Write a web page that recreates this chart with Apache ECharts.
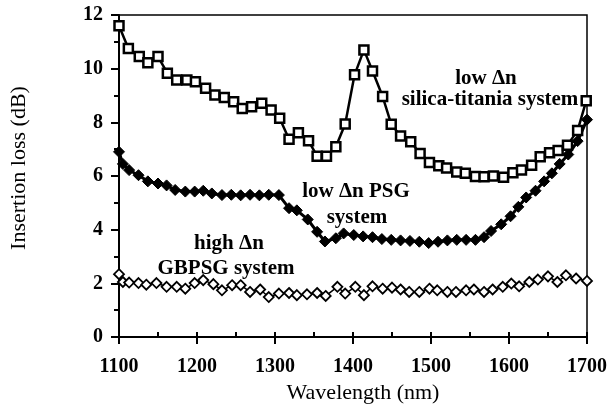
<!DOCTYPE html>
<html>
<head>
<meta charset="utf-8">
<script src="https://cdn.jsdelivr.net/npm/echarts@6/dist/echarts.min.js"></script>
<style>html,body{margin:0;padding:0;background:#fff;}#c{width:611px;height:409px;}</style>
</head>
<body>
<div id="c"></div>
<script>
// silica-titania system (open squares)
var stWl = [1100,1112,1126,1137,1150,1162,1174,1187,1198,1211,1223,1235,1247,1258,1270,1283,1295,1306,1318,1330,1343,1354,1366,1378,1390,1402,1414,1425,1438,1449,1461,1474,1486,1498,1510,1520,1533,1544,1557,1568,1580,1593,1605,1616,1629,1640,1652,1663,1675,1688,1699];
var stLoss = [11.6,10.75,10.45,10.22,10.45,9.83,9.58,9.58,9.51,9.27,9.02,8.93,8.77,8.52,8.58,8.71,8.46,8.15,7.37,7.61,7.31,6.74,6.74,7.09,7.94,9.77,10.7,9.91,8.96,7.93,7.49,7.28,6.84,6.5,6.38,6.3,6.15,6.1,5.98,5.97,6.0,5.95,6.12,6.22,6.4,6.72,6.87,6.95,7.15,7.7,8.8];
// low dn PSG system (filled diamonds)
var psgWl = [1100,1105,1113,1125,1137,1150,1161,1172,1185,1197,1208,1219,1232,1244,1256,1268,1280,1292,1305,1318,1328,1342,1354,1364,1378,1388,1401,1413,1425,1437,1449,1461,1473,1485,1497,1509,1521,1533,1545,1557,1568,1577,1590,1602,1612,1622,1634,1645,1655,1665,1676,1688,1700];
var psgLoss = [6.9,6.45,6.22,6.03,5.8,5.72,5.65,5.48,5.42,5.42,5.45,5.35,5.29,5.3,5.28,5.3,5.28,5.3,5.29,4.8,4.72,4.38,3.92,3.56,3.68,3.86,3.8,3.75,3.72,3.65,3.62,3.6,3.58,3.55,3.5,3.55,3.6,3.62,3.62,3.62,3.72,3.95,4.2,4.5,4.85,5.2,5.45,5.8,6.1,6.45,6.8,7.3,8.1];
// high dn GBPSG system (open diamonds)
var gbWl = [1100,1105,1113,1125,1135,1148,1161,1174,1185,1197,1208,1221,1232,1245,1256,1268,1281,1292,1305,1318,1328,1341,1354,1365,1380,1390,1403,1414,1425,1438,1450,1461,1472,1485,1498,1508,1521,1532,1545,1555,1568,1579,1592,1603,1613,1626,1637,1650,1662,1673,1686,1700];
var gbLoss = [2.34,2.05,2.03,2.01,1.95,2.01,1.87,1.87,1.8,2.01,2.12,1.97,1.74,1.93,1.93,1.68,1.77,1.49,1.62,1.64,1.56,1.59,1.64,1.53,1.87,1.62,1.87,1.56,1.89,1.8,1.84,1.77,1.68,1.68,1.8,1.74,1.68,1.68,1.74,1.77,1.68,1.77,1.87,1.99,1.89,2.05,2.14,2.26,2.05,2.3,2.18,2.09];

var xTicks = [1100,1200,1300,1400,1500,1600,1700];
var yTicks = [0,2,4,6,8,10,12];

function pairs(xs, ys){ return xs.map(function(x,i){ return [x, ys[i]]; }); }

var serif = 'Liberation Serif';
var chart = echarts.init(document.getElementById('c'), null, {renderer:'canvas'});
chart.setOption({
  animation:false,
  backgroundColor:'#fff',
  grid:{left:119, right:24, top:15, bottom:72, show:true, borderColor:'#000', borderWidth:1.5, backgroundColor:'transparent'},
  xAxis:[{
    type:'value', min:xTicks[0], max:xTicks[xTicks.length-1], interval:100,
    name:'Wavelength (nm)', nameLocation:'middle', nameGap:40,
    nameTextStyle:{fontFamily:serif, fontSize:22, color:'#000', padding:[0,0,0,20]},
    axisLine:{lineStyle:{color:'#000', width:2}},
    axisTick:{show:true, inside:false, length:7, lineStyle:{color:'#000', width:2}},
    axisLabel:{fontFamily:serif, fontSize:20, fontWeight:'bold', color:'#000', margin:20, formatter:function(v){ return String(v); }},
    splitLine:{show:false}
  },{
    type:'value', min:xTicks[0], max:xTicks[xTicks.length-1], interval:50, position:'bottom',
    axisLine:{show:false},
    axisTick:{show:true, inside:true, length:5, lineStyle:{color:'#000', width:2}},
    axisLabel:{show:false}, splitLine:{show:false}
  }],
  yAxis:{
    type:'value', min:yTicks[0], max:yTicks[yTicks.length-1], interval:2,
    name:'Insertion loss (dB)', nameLocation:'middle', nameGap:89, nameRotate:90,
    nameTextStyle:{fontFamily:serif, fontSize:22, color:'#000', padding:[0,0,0,16]},
    axisLine:{lineStyle:{color:'#000', width:2}},
    axisTick:{show:true, inside:false, length:8, lineStyle:{color:'#000', width:2}},
    minorTick:{show:true, splitNumber:2, length:5, lineStyle:{color:'#000', width:2}},
    axisLabel:{fontFamily:serif, fontSize:20, fontWeight:'bold', color:'#000', margin:16},
    splitLine:{show:false}
  },
  series:[{
    type:'line', data:pairs(stWl, stLoss), xAxisIndex:0,
    symbol:'rect', symbolSize:9, showAllSymbol:true,
    lineStyle:{color:'#000', width:2.5},
    itemStyle:{color:'#fff', borderColor:'#000', borderWidth:2.5},
    z:3
  },{
    type:'line', data:pairs(psgWl, psgLoss), xAxisIndex:0,
    symbol:'diamond', symbolSize:11, showAllSymbol:true,
    lineStyle:{color:'#000', width:3},
    itemStyle:{color:'#000', borderColor:'#000', borderWidth:1},
    z:2
  },{
    type:'line', data:pairs(gbWl, gbLoss), xAxisIndex:0,
    symbol:'diamond', symbolSize:10, showAllSymbol:true,
    lineStyle:{color:'#000', width:1.5},
    itemStyle:{color:'#fff', borderColor:'#000', borderWidth:1.8},
    z:2
  }],
  graphic:[
    {type:'text', x:486, y:79, style:{text:'low \u0394n', font:'bold 21px "Liberation Serif"', fill:'#000', textAlign:'center', textVerticalAlign:'middle'}},
    {type:'text', x:490, y:100, style:{text:'silica-titania system', font:'bold 21px "Liberation Serif"', fill:'#000', textAlign:'center', textVerticalAlign:'middle'}},
    {type:'text', x:356, y:192, style:{text:'low \u0394n PSG', font:'bold 21px "Liberation Serif"', fill:'#000', textAlign:'center', textVerticalAlign:'middle'}},
    {type:'text', x:357, y:218, style:{text:'system', font:'bold 21px "Liberation Serif"', fill:'#000', textAlign:'center', textVerticalAlign:'middle'}},
    {type:'text', x:229, y:244, style:{text:'high \u0394n', font:'bold 21px "Liberation Serif"', fill:'#000', textAlign:'center', textVerticalAlign:'middle'}},
    {type:'text', x:226, y:269, style:{text:'GBPSG system', font:'bold 21px "Liberation Serif"', fill:'#000', textAlign:'center', textVerticalAlign:'middle'}}
  ]
});
</script>
</body>
</html>
